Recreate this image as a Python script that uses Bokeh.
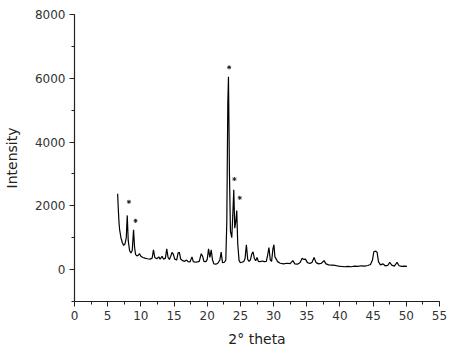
from bokeh.plotting import figure
from bokeh.models import Range1d, SingleIntervalTicker
from bokeh.embed import file_html
from bokeh.resources import INLINE

two_theta = [6.5, 6.6, 6.7, 6.8, 7.0, 7.2, 7.4, 7.6, 7.8, 7.95, 8.1, 8.3, 8.5, 8.7, 8.9, 9.05, 9.2, 9.4, 9.6, 9.8,
             10.0, 10.3, 10.6, 11.0, 11.4, 11.7, 11.9, 12.1, 12.4, 12.7, 12.9, 13.2, 13.4, 13.7, 13.9, 14.1, 14.3,
             14.5, 14.7, 14.9, 15.1, 15.4, 15.6, 15.8, 16.0, 16.3, 16.6, 16.9, 17.1, 17.4, 17.7, 17.9, 18.2, 18.5,
             18.8, 19.1, 19.3, 19.5, 19.8, 20.0, 20.2, 20.4, 20.6, 20.8, 21.0, 21.3, 21.6, 21.9, 22.1, 22.3, 22.6,
             22.8, 22.95, 23.1, 23.2, 23.35, 23.5, 23.7, 23.85, 24.0, 24.15, 24.3, 24.45, 24.6, 24.8, 25.0, 25.2,
             25.5, 25.7, 25.9, 26.1, 26.3, 26.5, 26.7, 26.9, 27.1, 27.3, 27.5, 27.7, 28.0, 28.3, 28.6, 28.9, 29.1,
             29.3, 29.5, 29.7, 29.9, 30.05, 30.2, 30.4, 30.6, 31.0, 31.5, 32.0, 32.5, 32.9, 33.2, 33.6, 34.0, 34.3,
             34.5, 34.8, 35.1, 35.5, 35.8, 36.1, 36.4, 36.8, 37.2, 37.6, 37.9, 38.3, 38.8, 39.3, 39.8, 40.2, 40.7,
             41.2, 41.7, 42.2, 42.7, 43.2, 43.7, 44.2, 44.6, 44.9, 45.1, 45.4, 45.6, 45.8, 46.1, 46.5, 46.8, 47.2,
             47.5, 47.8, 48.2, 48.6, 48.9, 49.3, 49.7, 50.1]
intensity = [2380, 1900, 1500, 1250, 1000, 850, 760, 800, 1000, 1700, 900, 600, 520, 600, 1250, 700, 480, 430, 450, 500,
             420, 380, 360, 340, 330, 360, 620, 380, 340, 400, 330, 420, 330, 360, 650, 380, 320,
             420, 540, 480, 330, 300, 520, 540, 330, 280, 260, 300, 250, 240, 400, 250, 230, 240,
             260, 500, 420, 260, 250, 320, 650, 380, 620, 300, 180, 170, 200, 300, 550, 220, 230,
             300, 1500, 5200, 6050, 3000, 1200, 1000, 1700, 2500, 1300, 1500, 1850, 800, 280, 220, 230,
             250, 350, 780, 320, 260, 300, 480, 560, 350, 280, 380, 260, 250, 270, 250, 260, 450,
             690, 300, 260, 650, 780, 400, 330, 250, 200, 180, 200, 190, 280, 180, 170, 220, 360,
             320, 330, 220, 190, 230, 380, 220, 180, 200, 280, 180, 150, 140, 130, 110, 100, 90,
             100, 90, 110, 100, 120, 110, 130, 160, 300, 560, 580, 540, 250, 150, 180, 120, 130,
             230, 140, 110, 230, 120, 100, 110, 100]

star_x = [8.2, 9.2, 23.3, 24.1, 24.9]
star_y = [2125, 1530, 6344, 2840, 2250]

p = figure(frame_width=365, frame_height=287, output_backend="svg", toolbar_location=None,
           x_range=Range1d(0, 55), y_range=Range1d(-1000, 8000),
           min_border_left=67, min_border_right=11, min_border_top=14, min_border_bottom=44,
           x_axis_label="2° theta", y_axis_label="Intensity")
p.outline_line_color = None
p.grid.grid_line_color = None
p.background_fill_color = "white"
p.border_fill_color = "white"

p.xaxis.ticker = SingleIntervalTicker(interval=5, num_minor_ticks=2)
p.yaxis.ticker = SingleIntervalTicker(interval=2000, num_minor_ticks=2)

for ax in (p.xaxis[0], p.yaxis[0]):
    ax.axis_line_color = "#222222"
    ax.axis_line_width = 1.2
    ax.major_tick_line_color = "#222222"
    ax.minor_tick_line_color = "#222222"
    ax.major_tick_out = 5
    ax.major_tick_in = 0
    ax.minor_tick_out = 3
    ax.minor_tick_in = 0
    ax.major_label_text_font = "DejaVu Sans"
    ax.major_label_text_font_size = "12px"
    ax.major_label_text_color = "#333333"
    ax.axis_label_text_font = "DejaVu Sans"
    ax.axis_label_text_font_size = "14px"
    ax.axis_label_text_font_style = "normal"
    ax.axis_label_text_color = "#222222"

p.xaxis.major_label_standoff = 4
p.xaxis.axis_label_standoff = 8
p.yaxis.major_label_standoff = 4
p.yaxis.axis_label_standoff = 12

p.line(two_theta, intensity, line_color="black", line_width=1.2)
p.scatter(star_x, star_y, marker="asterisk", size=4, line_color="#222222", line_width=1)

open("out.html", "w").write(file_html(p, INLINE))
